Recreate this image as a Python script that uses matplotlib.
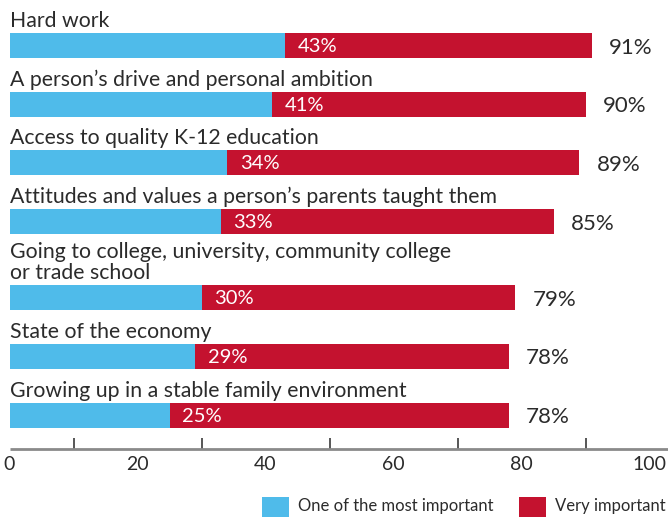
import matplotlib
matplotlib.use('Agg')
import matplotlib.pyplot as plt
import matplotlib.patches as mpatches

BLUE = '#4fbbea'
RED = '#c4122f'
TEXT = '#2b2b2b'

factors = [
    'Hard work',
    'A person\u2019s drive and personal ambition',
    'Access to quality K-12 education',
    'Attitudes and values a person\u2019s parents taught them',
    'Going to college, university, community college\nor trade school',
    'State of the economy',
    'Growing up in a stable family environment',
]
most_important = [43, 41, 34, 33, 30, 29, 25]
total_important = [91, 90, 89, 85, 79, 78, 78]

x_ticks = [0, 20, 40, 60, 80, 100]
x_minor = [10, 30, 50, 70, 90]

LEGEND_LABELS = ['One of the most important', 'Very important']

W, H = 668, 517
plt.rcParams['font.family'] = ['Lato', 'DejaVu Sans']

fig = plt.figure(figsize=(W / 100, H / 100), dpi=100)
# axes in pixel-ish layout: x 0..100 -> 9.5..649.5 px, y in px from top
ax_bottom = 449
ax = fig.add_axes([9.5 / W, (H - ax_bottom) / H, 640 / W, ax_bottom / H])
ax.set_xlim(0, 100)
ax.set_ylim(ax_bottom, 0)

# Row positions (label above each bar, extra room for wrapped labels).
bar_h = 25
centers = []
y = 45.5
for label in factors:
    extra = label.count('\n') * 17.5
    y += extra
    centers.append(y)
    y += 58.7

for label, blue, total, yc in zip(factors, most_important, total_important, centers):
    ax.barh(yc, blue, height=bar_h, color=BLUE, linewidth=0)
    ax.barh(yc, total - blue, left=blue, height=bar_h, color=RED, linewidth=0)
    ax.text(0, yc - bar_h / 2 - 2, label, ha='left', va='bottom', fontsize=15.3,
            color=TEXT, linespacing=1.1, clip_on=False)
    ax.text(blue + 2, yc + 1, f'{blue}%', ha='left', va='center', fontsize=14.5,
            color='white')
    ax.text(total + 2.7, yc + 2, f'{total}%', ha='left', va='center', fontsize=16,
            color=TEXT, clip_on=False)

# Axis line and ticks.
for side in ['top', 'right', 'left', 'bottom']:
    ax.spines[side].set_visible(False)
ax.plot([0, 103], [ax_bottom - 0.5, ax_bottom - 0.5], color='#8a8a8a', lw=2,
        clip_on=False, solid_capstyle='butt')
ax.set_yticks([])
ax.set_xticks(x_ticks)
ax.set_xticklabels([str(t) for t in x_ticks], fontsize=14, color=TEXT)
ax.set_xticks(x_minor, minor=True)
ax.tick_params(axis='x', which='major', length=0, pad=5)
ax.tick_params(axis='x', which='minor', direction='in', length=8, width=1.2,
               color='#3a3a3a')

# Legend.
for (x0, color), (tx, text) in zip([(262, BLUE), (519, RED)],
                                   [(298, LEGEND_LABELS[0]), (555, LEGEND_LABELS[1])]):
    fig.add_artist(mpatches.Rectangle((x0 / W, 0), 27 / W, 20 / H,
                                      transform=fig.transFigure, color=color, lw=0))
    fig.text(tx / W, (H - 506) / H, text, ha='left', va='center', fontsize=12,
             color=TEXT)

fig.savefig('out.png', dpi=100)
